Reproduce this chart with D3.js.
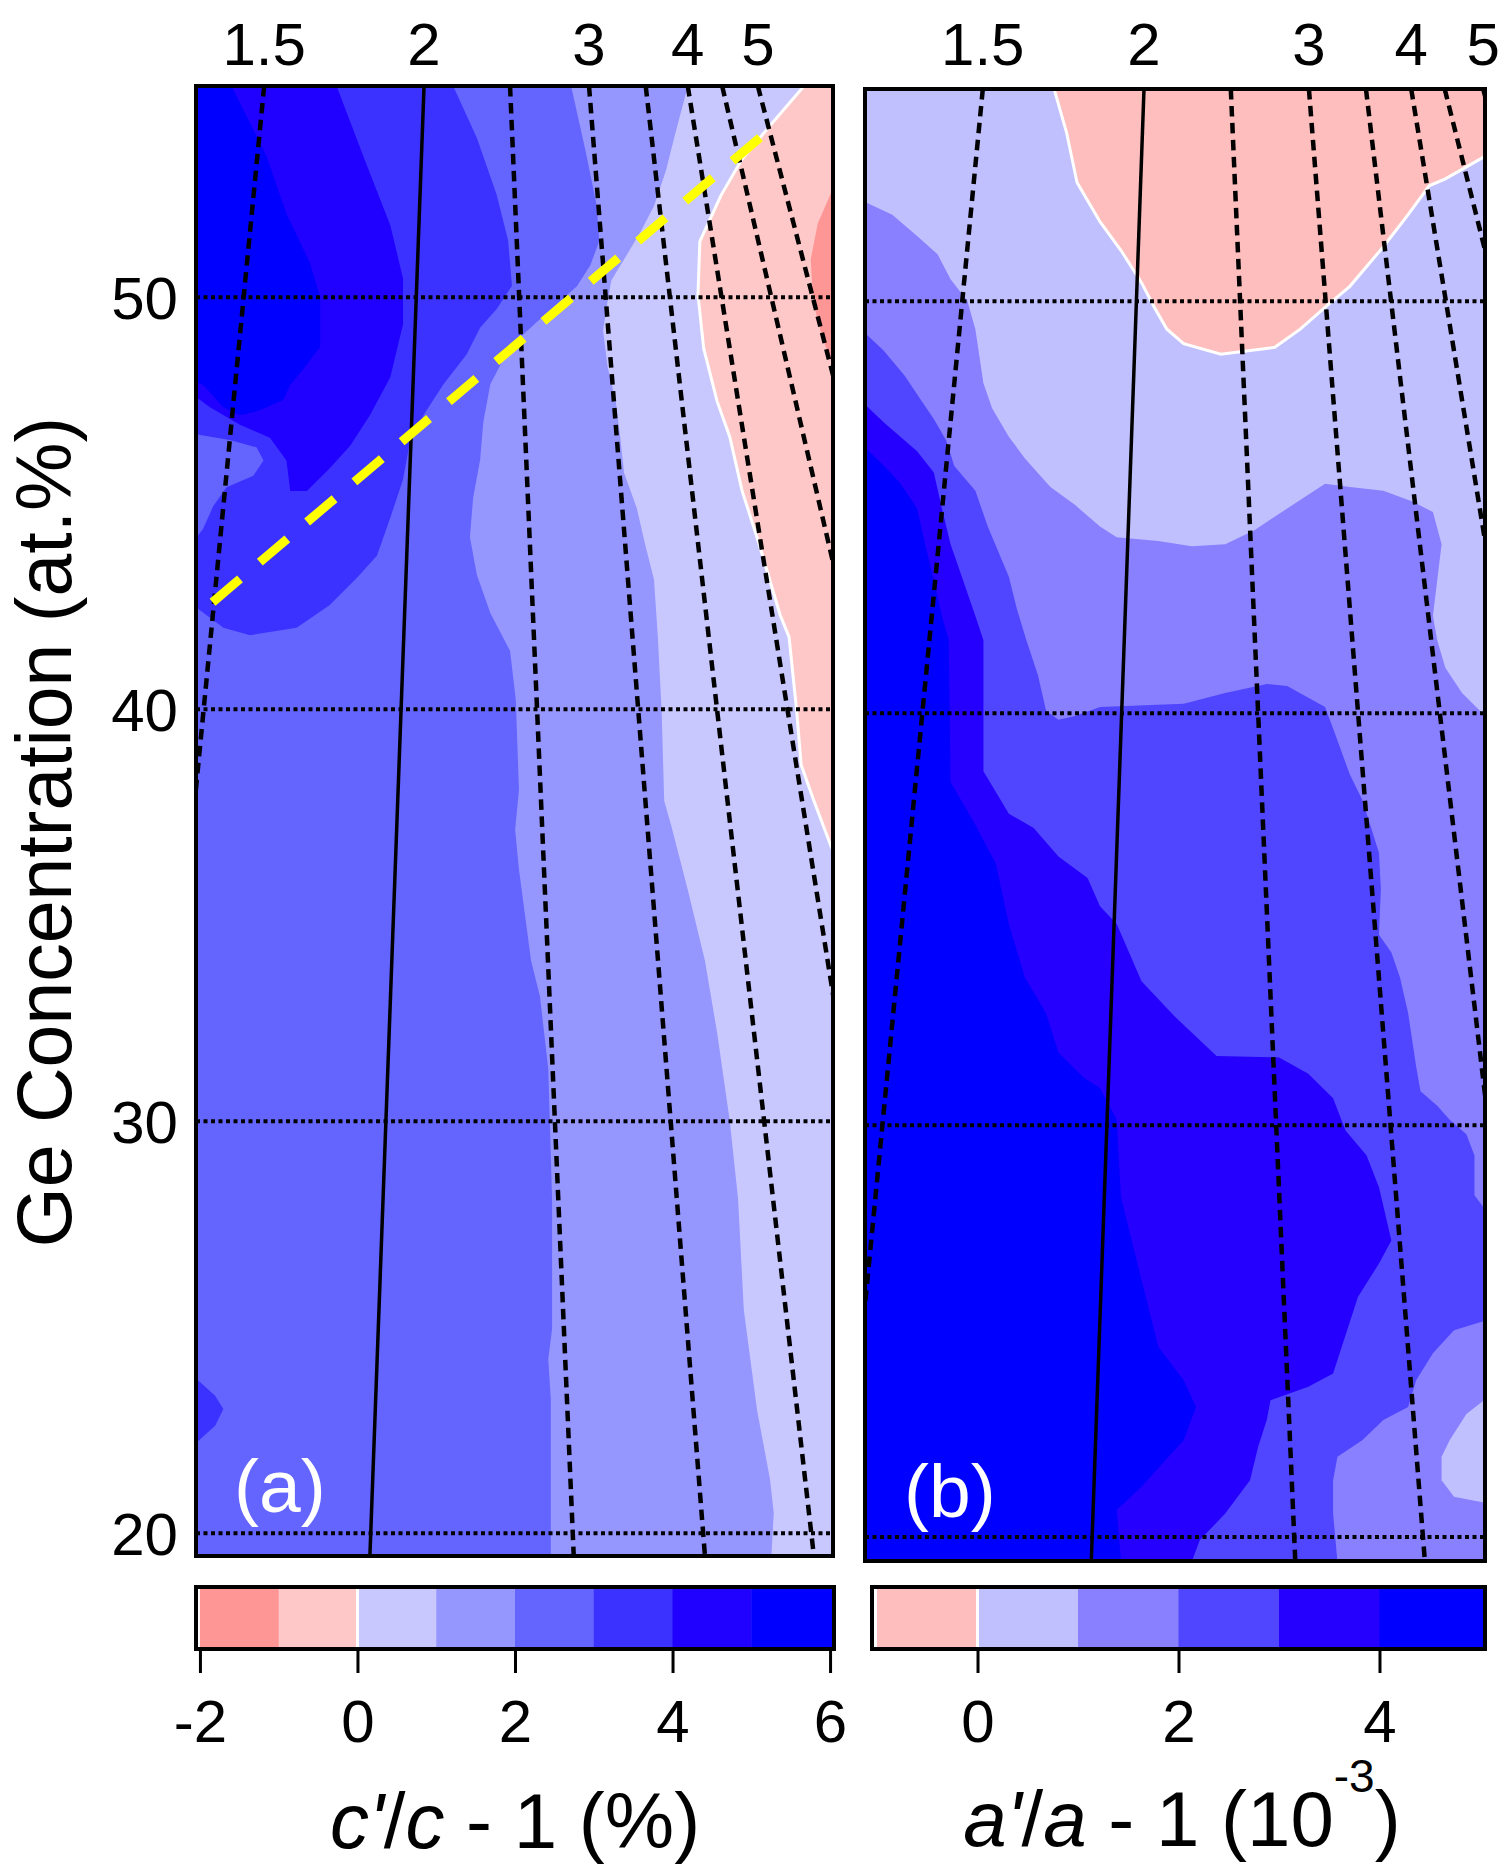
<!DOCTYPE html>
<html>
<head>
<meta charset="utf-8">
<script src="https://cdn.jsdelivr.net/npm/d3@7"></script>
<style>
  body { margin: 0; background: #fff; }
  svg text { font-family: "Liberation Sans", Arial, Helvetica, sans-serif; }
</style>
</head>
<body>
<svg id="chart"></svg>
<script>
// ---------- data (x = position across sample, 0-100; y = Ge at.%) ----------

// panel (a): c'/c - 1 (%)
const aBands = [-2, -1, 0, 1, 2, 3, 4, 5];
const aColors = ['#ff9696', '#ffc8c8', '#c8c8ff', '#9696ff', '#6464ff', '#3c32ff', '#2000ff', '#0000ff'];
const aTicks = [-2, 0, 2, 4, 6];

// contour boundaries
const aLevelM1 = [[101.5,53.2],[100,52.64],[97.6,51.79],[96.5,50.92],[96.9,49.88],[98.3,49.03],[100,48.33],[101.5,47.9]];
const aLevel0 = [[95.6,55.6],[95.4,55.12],[90.4,54.22],[85.7,53.35],[82.4,52.47],[79.1,51.36],[78.8,50.07],[79.7,48.76],[81.8,47.48],[83.8,46.61],[85.7,45.32],[88.4,44.01],[91.7,42.29],[93.1,41.76],[94.3,39.96],[95.0,38.65],[97.0,37.78],[99.7,36.67],[101.9,35.87]];
const aLevel1 = [[77.2,55.6],[77.2,55.12],[75.2,53.95],[73.8,53.09],[71.9,52.22],[69.9,51.62],[67.9,51.1],[65.2,50.41],[64.6,49.89],[63.9,49.2],[64.6,48.33],[65.9,47.47],[66.6,46.61],[67.2,45.74],[69.2,44.88],[70.5,44.01],[71.9,43.15],[72.5,41.77],[73.1,39.96],[73.5,37.78],[74.6,37.18],[77.2,35.62],[79.9,33.9],[81.8,32.16],[83.8,30.0],[85.1,28.11],[86.0,25.42],[88.1,22.97],[90.1,21.32],[90.7,20.5],[90.1,18.8]];
const aLevel2 = [[58.9,55.6],[58.9,55.12],[61.2,53.52],[62.9,52.23],[63.3,51.36],[61.9,50.78],[59.8,50.27],[54.5,49.54],[49.3,48.81],[46.2,47.89],[45.1,46.97],[44.6,46.05],[43.5,45.13],[43.0,44.18],[44.1,43.26],[46.2,42.34],[49.3,41.42],[50.2,40.23],[50.7,38.05],[50.1,37.08],[50.7,36.11],[52.6,33.9],[54.0,33.03],[55.3,31.28],[55.9,28.11],[55.9,24.96],[55.3,24.23],[55.7,23.26],[55.7,18.8]];
const aLevel3 = [[40.4,55.6],[40.4,55.12],[44.1,53.87],[47.2,52.49],[49.0,51.38],[49.6,50.28],[47.2,49.72],[44.6,49.26],[42.5,48.62],[38.8,47.88],[35.7,47.14],[33.6,46.5],[32.5,45.58],[30.5,44.65],[28.4,43.73],[25.2,43.18],[21.0,42.53],[15.8,41.98],[8.5,41.8],[4.3,41.98],[1.1,42.35],[-1,42.6]];
const aLevel3Hole = [[-1,46.7],[5.3,46.54],[9.5,46.36],[10.6,46.04],[9.0,45.67],[4.8,45.39],[2.7,44.93],[1.1,44.38],[-1,43.95]];
const aLevel3Patch = [[-1,23.9],[3.0,23.34],[4.3,23.02],[3.0,22.61],[-1,22.05]];
const aLevel4 = [[22.1,55.6],[22.1,55.12],[26.3,53.41],[30.5,51.75],[32.5,50.46],[32.5,49.35],[30.5,48.06],[27.3,47.14],[24.2,46.4],[21.0,45.85],[17.4,45.3],[14.8,45.3],[14.2,46.04],[11.6,46.59],[6.9,46.91],[2.2,47.33],[-1,47.7]];
const aLevel5 = [[5.6,55.6],[5.6,55.12],[11.1,53.41],[14.2,52.03],[17.9,50.83],[19.5,50.0],[19.5,48.8],[16.8,48.25],[14.8,47.88],[13.7,47.51],[9.5,47.23],[6.9,47.14],[4.3,47.33],[1.1,47.88],[-1,48.0]];

// iso lines (top axis), x at top and bottom of the map
const isoValues = [1.5, 2, 2.5, 3, 3.5, 4, 4.5, 5];
const isoLabels = [1.5, 2, 3, 4, 5];
const aIsoTop = [10.7, 35.8, 49.3, 61.7, 70.6, 77.2, 82.6, 88.2];
const aIsoBottom = [-11.7, 27.3, 59.3, 79.9, 97.0, 114.1, 136.3, 148.2];

// yellow guide line in (a)
const aGuide = [[2.6, 42.6], [90.4, 54.12]];

// panel (b): a'/a - 1 (10^-3)
const bBands = [-1, 0, 1, 2, 3, 4];
const bColors = ['#ffbebe', '#c0c0ff', '#8880ff', '#5046ff', '#2600ff', '#0000ff'];
const bTicks = [0, 2, 4];

const bLevel0 = [[30.3,55.6],[30.5,55.15],[32.5,54.1],[34.2,52.88],[37.9,51.93],[41.3,51.23],[44.6,50.45],[46.7,49.84],[48.7,49.32],[51.4,48.97],[57.4,48.71],[66.1,48.88],[70.2,49.32],[74.8,49.93],[78.2,50.36],[83.6,51.32],[87.6,52.1],[91.0,52.8],[93.6,52.97],[99.7,53.49],[101.5,53.6]];
const bLevel1 = [[-1,52.45],[0,52.41],[4.4,52.1],[8.4,51.58],[11.7,51.14],[13.8,50.53],[16.5,50.01],[17.8,49.32],[19.1,48.01],[20.5,47.4],[23.2,46.71],[25.8,46.18],[29.9,45.49],[33.9,45.05],[37.9,44.53],[40.6,44.27],[47.3,44.18],[52.7,44.05],[58.1,44.1],[62.8,44.44],[68.1,44.97],[74.2,45.57],[78.2,45.49],[83.6,45.4],[88.3,45.14],[91.6,44.88],[93.0,44.1],[92.3,43.23],[91.6,42.36],[92.3,41.77],[93.6,41.1],[96.3,40.49],[99.7,39.98],[101.5,39.8]];
const bLevel1Hole = [[101.5,23.5],[100.4,23.39],[97.0,22.99],[94.3,22.35],[93.0,21.95],[93.0,21.38],[95.0,20.98],[100.4,20.82],[101.5,20.8]];
const bLevel2 = [[-1,49.3],[0,49.23],[3.0,48.8],[6.4,48.19],[9.1,47.58],[11.1,47.14],[13.1,46.62],[14.4,46.0],[17.8,45.4],[19.8,44.53],[23.2,43.31],[24.5,42.53],[26.0,41.78],[27.9,40.92],[29.2,40.06],[31.2,39.84],[33.9,39.93],[37.9,40.15],[51.4,40.23],[58.1,40.49],[64.8,40.71],[68.1,40.66],[74.2,40.15],[75.5,39.63],[78.2,38.51],[80.2,37.9],[82.9,36.61],[83.2,35.74],[82.9,34.62],[84.9,34.19],[86.3,33.58],[87.6,32.72],[88.9,31.42],[89.6,30.82],[92.3,30.47],[94.3,30.13],[97.0,29.78],[98.3,29.26],[98.3,28.3],[99.7,28.02],[101.5,27.95],[101.5,25.3],[100.4,25.27],[95.0,25.02],[91.6,24.46],[88.9,23.81],[87.6,23.16],[83.6,22.84],[80.2,22.35],[76.2,21.95],[75.5,21.38],[75.5,20.57],[76.2,19.4],[76.3,18.8]];
const bLevel3 = [[-1,47.5],[0,47.49],[3.0,47.06],[6.4,46.62],[8.4,46.36],[11.1,45.84],[12.4,44.97],[13.8,44.1],[15.8,43.23],[17.8,42.36],[19.1,41.77],[19.1,38.59],[23.2,37.56],[27.2,37.21],[31.2,36.52],[35.9,36.0],[37.9,35.31],[40.6,34.88],[44.6,33.49],[50.0,32.63],[56.7,31.68],[66.8,31.64],[71.5,31.25],[75.5,30.65],[77.5,29.87],[80.9,29.26],[82.9,28.49],[84.9,27.2],[82.9,26.64],[79.5,25.83],[75.5,23.97],[71.5,23.65],[65.4,23.32],[64.8,22.84],[63.4,22.19],[62.1,21.38],[58.1,20.57],[54.0,19.93],[52.7,19.4],[52.5,18.8]];
const bLevel4 = [[-1,46.5],[0,46.45],[3.0,46.01],[5.7,45.58],[8.4,44.97],[9.7,44.1],[11.1,43.23],[12.4,42.36],[13.5,41.78],[13.8,38.33],[17.8,37.29],[21.1,36.35],[23.2,34.88],[25.8,33.58],[29.2,32.72],[31.2,31.76],[35.2,31.16],[37.9,30.9],[40.6,30.13],[41.3,28.24],[44.6,26.24],[47.3,24.62],[51.4,23.81],[53.4,23.16],[51.4,22.35],[48.0,21.79],[44.6,21.22],[40.6,20.66],[41.3,19.4],[41.4,18.8]];

const bIsoTop = [19.0, 45.0, 59.0, 71.6, 80.8, 88.1, 93.5, 99.7];
const bIsoBottom = [-4.0, 36.5, 69.4, 90.3, 108.9, 126.9, 152.9, 163.7];

const gridLevels = [20, 30, 40, 50];

// ---------- layout ----------
const W = 1499, H = 1866;
const font = '"Liberation Sans", Arial, Helvetica, sans-serif';

const svg = d3.select('#chart').attr('width', W).attr('height', H);

const panels = [
  {
    id: 'a', left: 196, top: 86, width: 637, height: 1470, yDomain: [19.45, 55.13],
    bands: aBands, colors: aColors, base: -1,
    regions: [
      {band: -2, pts: aLevelM1, close: []},
      {band: 0, pts: aLevel0, close: ['BR', 'BL', 'TL']},
      {band: 1, pts: aLevel1, close: ['BL', 'TL']},
      {band: 2, pts: aLevel2, close: ['BL', 'TL']},
      {band: 3, pts: aLevel3, close: ['TL']},
      {band: 2, pts: aLevel3Hole, close: []},
      {band: 3, pts: aLevel3Patch, close: []},
      {band: 4, pts: aLevel4, close: ['TL']},
      {band: 5, pts: aLevel5, close: ['TL']}
    ],
    zeroLine: aLevel0, isoTop: aIsoTop, isoBottom: aIsoBottom, label: '(a)',
    cb: {left: 196, right: 834, top: 1587, bottom: 1649, domain: [-2.05, 6.05], ticks: aTicks}
  },
  {
    id: 'b', left: 865, top: 89, width: 620, height: 1472, yDomain: [19.42, 55.15],
    bands: bBands, colors: bColors, base: 0,
    regions: [
      {band: -1, pts: bLevel0, close: ['TR']},
      {band: 1, pts: bLevel1, close: ['BR', 'BL']},
      {band: 0, pts: bLevel1Hole, close: []},
      {band: 2, pts: bLevel2, close: ['BL']},
      {band: 3, pts: bLevel3, close: ['BL']},
      {band: 4, pts: bLevel4, close: ['BL']}
    ],
    zeroLine: bLevel0, isoTop: bIsoTop, isoBottom: bIsoBottom, label: '(b)',
    cb: {left: 872, right: 1485, top: 1587, bottom: 1649, domain: [-1.05, 5.05], ticks: bTicks}
  }
];

const defs = svg.append('defs');

panels.forEach(p => {
  const x = d3.scaleLinear().domain([0, 100]).range([p.left, p.left + p.width]);
  const y = d3.scaleLinear().domain(p.yDomain).range([p.top + p.height, p.top]);
  const color = d3.scaleThreshold().domain(p.bands.slice(1)).range(p.colors);
  const line = d3.line().x(d => x(d[0])).y(d => y(d[1]));

  // corners just outside the map, used to close the filled regions
  const corners = {
    TL: [-5, p.yDomain[1] + 1], TR: [105, p.yDomain[1] + 1],
    BL: [-5, p.yDomain[0] - 1], BR: [105, p.yDomain[0] - 1]
  };

  defs.append('clipPath').attr('id', 'clip-' + p.id)
    .append('rect')
    .attr('x', p.left).attr('y', p.top)
    .attr('width', p.width).attr('height', p.height);

  const map = svg.append('g').attr('clip-path', 'url(#clip-' + p.id + ')');

  // base band
  map.append('rect')
    .attr('x', p.left).attr('y', p.top)
    .attr('width', p.width).attr('height', p.height)
    .attr('fill', color(p.base));

  // filled contour bands, painted low to high
  map.selectAll('path.region')
    .data(p.regions)
    .join('path')
    .attr('class', 'region')
    .attr('d', d => line(d.pts.concat(d.close.map(k => corners[k]))) + 'Z')
    .attr('fill', d => color(d.band))
    .attr('stroke', 'none');

  // white zero contour
  map.append('path')
    .attr('d', line(p.zeroLine))
    .attr('fill', 'none')
    .attr('stroke', '#fff')
    .attr('stroke-width', 3);

  // dotted Ge grid lines
  map.selectAll('line.grid')
    .data(gridLevels)
    .join('line')
    .attr('class', 'grid')
    .attr('x1', x(0)).attr('x2', x(100))
    .attr('y1', d => y(d)).attr('y2', d => y(d))
    .attr('stroke', '#000')
    .attr('stroke-width', 4)
    .attr('stroke-dasharray', '4,3.5');

  // iso lines
  map.selectAll('line.iso')
    .data(isoValues)
    .join('line')
    .attr('class', 'iso')
    .attr('x1', (d, i) => x(p.isoTop[i])).attr('y1', y(p.yDomain[1]))
    .attr('x2', (d, i) => x(p.isoBottom[i])).attr('y2', y(p.yDomain[0]))
    .attr('stroke', '#000')
    .attr('stroke-width', d => d === 2 ? 3.5 : 4.5)
    .attr('stroke-dasharray', d => d === 2 ? null : '10.5,6.5');

  if (p.id === 'a') {
    map.append('path')
      .attr('d', line(aGuide))
      .attr('fill', 'none')
      .attr('stroke', '#ffff00')
      .attr('stroke-width', 9)
      .attr('stroke-dasharray', '36,26');
  }

  // panel letter
  map.append('text')
    .attr('x', p.left + (p.id === 'a' ? 38 : 39))
    .attr('y', p.top + p.height - 44)
    .attr('fill', '#fff')
    .attr('font-size', 75)
    .text(p.label);

  // frame
  svg.append('rect')
    .attr('x', p.left).attr('y', p.top)
    .attr('width', p.width).attr('height', p.height)
    .attr('fill', 'none')
    .attr('stroke', '#000')
    .attr('stroke-width', 4);

  // top labels at the iso lines
  svg.selectAll('text.top-' + p.id)
    .data(isoLabels)
    .join('text')
    .attr('class', 'top-' + p.id)
    .attr('x', d => x(p.isoTop[isoValues.indexOf(d)]))
    .attr('y', 65)
    .attr('text-anchor', 'middle')
    .attr('font-size', 60)
    .text(d => d);

  // y tick labels only on the left panel
  if (p.id === 'a') {
    svg.selectAll('text.ylab')
      .data(gridLevels)
      .join('text')
      .attr('class', 'ylab')
      .attr('x', 178)
      .attr('y', d => y(d))
      .attr('dy', '0.36em')
      .attr('text-anchor', 'end')
      .attr('font-size', 60)
      .text(d => d);
  }

  // colour bar
  const c = p.cb;
  const cx = d3.scaleLinear().domain(c.domain).range([c.left, c.right]);
  const cbBands = p.bands.map((b, i) => ({
    x0: Math.max(b, c.domain[0]),
    x1: i < p.bands.length - 1 ? p.bands[i + 1] : c.domain[1],
    color: p.colors[i]
  }));
  svg.append('g').selectAll('rect')
    .data(cbBands)
    .join('rect')
    .attr('x', d => cx(d.x0))
    .attr('width', d => cx(d.x1) - cx(d.x0) + 0.5)
    .attr('y', c.top)
    .attr('height', c.bottom - c.top)
    .attr('fill', d => d.color);
  svg.append('line')
    .attr('x1', cx(0)).attr('x2', cx(0))
    .attr('y1', c.top).attr('y2', c.bottom)
    .attr('stroke', '#fff').attr('stroke-width', 3);
  svg.append('rect')
    .attr('x', c.left).attr('y', c.top)
    .attr('width', c.right - c.left).attr('height', c.bottom - c.top)
    .attr('fill', 'none')
    .attr('stroke', '#000')
    .attr('stroke-width', 4);

  const axis = svg.append('g')
    .attr('transform', 'translate(0,' + (c.bottom + 2) + ')')
    .call(d3.axisBottom(cx).tickValues(c.ticks).tickSize(22).tickPadding(26).tickFormat(d => String(d)));
  axis.select('.domain').remove();
  axis.attr('font-size', 60).attr('font-family', font);
  axis.selectAll('line').attr('stroke-width', 3);
  axis.selectAll('text').attr('fill', '#000');
});

// axis titles
svg.append('text')
  .attr('transform', 'translate(71,832) rotate(-90)')
  .attr('text-anchor', 'middle')
  .attr('font-size', 77)
  .text('Ge Concentration (at.%)');

const t1 = svg.append('text')
  .attr('x', 515).attr('y', 1848)
  .attr('text-anchor', 'middle')
  .attr('font-size', 78);
t1.append('tspan').attr('font-style', 'italic').text("c'");
t1.append('tspan').text('/');
t1.append('tspan').attr('font-style', 'italic').text('c');
t1.append('tspan').text(' - 1 (%)');

const t2 = svg.append('text')
  .attr('x', 1182).attr('y', 1846)
  .attr('text-anchor', 'middle')
  .attr('font-size', 78);
t2.append('tspan').attr('font-style', 'italic').text("a'");
t2.append('tspan').text('/');
t2.append('tspan').attr('font-style', 'italic').text('a');
t2.append('tspan').text(' - 1 (10');
t2.append('tspan').attr('font-size', 46).attr('dy', -54).text('-3');
t2.append('tspan').attr('dy', 54).text(')');
</script>
</body>
</html>
